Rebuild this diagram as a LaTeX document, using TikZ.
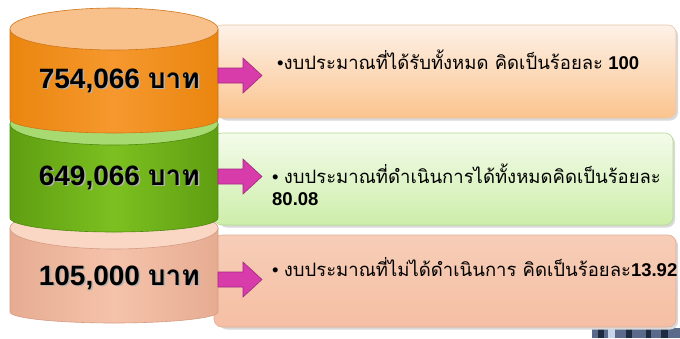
\documentclass[tikz,border=0pt]{standalone}
\usepackage{fontspec}
\setmainfont{Liberation Sans}
\newfontfamily\thai[Script=Thai]{Loma}
\definecolor{orEdge}{HTML}{EA860F}
\definecolor{orMid}{HTML}{F6982E}
\definecolor{orTop}{HTML}{F8C18C}
\definecolor{orLine}{HTML}{D07418}
\definecolor{grEdge}{HTML}{5F9E12}
\definecolor{grMid}{HTML}{7CC020}
\definecolor{grTop}{HTML}{A8DA72}
\definecolor{grLine}{HTML}{4E8A0E}
\definecolor{peEdge}{HTML}{E6AC92}
\definecolor{peMid}{HTML}{F5C3AA}
\definecolor{peTop}{HTML}{FAD6C4}
\definecolor{peLine}{HTML}{D59C84}
\definecolor{mag}{HTML}{D83CAA}
\definecolor{magD}{HTML}{A02880}
\definecolor{b1Top}{HTML}{FDF1E8}
\definecolor{b1Bot}{HTML}{FBC48E}
\definecolor{b1Line}{HTML}{E9C6A6}
\definecolor{b2Top}{HTML}{F3FBEA}
\definecolor{b2Bot}{HTML}{CDEEAA}
\definecolor{b2Line}{HTML}{B5DA8E}
\definecolor{b3Top}{HTML}{F7CDB7}
\definecolor{b3Bot}{HTML}{F5BFA4}
\definecolor{b3Line}{HTML}{DFAE98}
\definecolor{phMid}{HTML}{5A6A8A}
\definecolor{phDark}{HTML}{1F2A40}
\definecolor{phLight}{HTML}{C8D4E8}
\tikzset{
  box/.style={rounded corners=8pt, line width=0.6pt},
  shadowbox/.style={rounded corners=8pt, fill=black!15},
  lbl/.style={anchor=base east, inner sep=0pt, font=\fontsize{28}{30}\selectfont\bfseries},
  txt/.style={anchor=base west, inner sep=0pt, font=\fontsize{18.5}{22}\selectfont},
  blockarrow/.style={fill=mag, draw=magD, line width=0.6pt}
}
\begin{document}
\begin{tikzpicture}[x=1pt,y=-1pt]
\useasboundingbox (0,0) rectangle (680,338);
\fill[white] (0,0) rectangle (680,338);
% photo fragment bottom right
\fill[phMid] (592,328) rectangle (680,338);
\fill[phDark] (598,328) rectangle (604,338);
\fill[phLight] (608,328) rectangle (615,338);
\fill[phDark] (626,328) rectangle (632,338);
\fill[phDark] (646,328) rectangle (651,338);
\fill[phDark] (661,328) rectangle (668,338);
% boxes
\fill[shadowbox] (219,27.5) rectangle (678,120.5);
\path[box, top color=b1Top, bottom color=b1Bot, draw=b1Line] (214,25) rectangle (676,118);
\fill[shadowbox] (219,135.5) rectangle (675,227.5);
\path[box, top color=b2Top, bottom color=b2Bot, draw=b2Line] (214,133) rectangle (673,225);
\fill[shadowbox] (219,237.5) rectangle (678,329.5);
\path[box, top color=b3Top, bottom color=b3Bot, draw=b3Line] (214,235) rectangle (676,327);
% peach cylinder
\path[left color=peEdge, right color=peEdge, middle color=peMid, draw=peLine, line width=0.6pt]
  (10,228) -- (10,312) arc[start angle=180, end angle=0, x radius=104, y radius=11] -- (218,228) -- cycle;
\path[fill=peTop, draw=peLine, line width=0.6pt] (114,228) ellipse [x radius=104, y radius=21];
% green cylinder
\path[left color=grEdge, right color=grEdge, middle color=grMid, draw=grLine, line width=0.6pt]
  (10,124) -- (10,218) arc[start angle=180, end angle=0, x radius=104, y radius=14] -- (218,124) -- cycle;
\path[fill=grTop, draw=grLine, line width=0.6pt] (114,124) ellipse [x radius=104, y radius=21];
% orange cylinder
\path[left color=orEdge, right color=orEdge, middle color=orMid, draw=orLine, line width=0.6pt]
  (10,29) -- (10,119) arc[start angle=180, end angle=0, x radius=104, y radius=14] -- (218,29) -- cycle;
\path[fill=orTop, draw=orLine, line width=0.6pt] (114,29) ellipse [x radius=104, y radius=21];
% arrows
\foreach \c in {75.5,176.5,279.5}{
  \path[blockarrow] (218,{\c-7.5}) -- (243,{\c-7.5}) -- (243,{\c-17.5}) -- (262,\c)
     -- (243,{\c+17.5}) -- (243,{\c+7.5}) -- (218,{\c+7.5}) -- cycle;
}
% cylinder labels
\node[lbl, text=black!30] at (201.5,89.5) {754,066 {\thai บาท}};
\node[lbl] (l1) at (200,88) {754,066 {\thai บาท}};
\node[lbl, text=black!30] at (201.5,186.5) {649,066 {\thai บาท}};
\node[lbl] (l2) at (200,185) {649,066 {\thai บาท}};
\node[lbl, text=black!30] at (201.5,286.5) {105,000 {\thai บาท}};
\node[lbl] (l3) at (200,285) {105,000 {\thai บาท}};
% texts
\node[txt] (t1) at (277,69) {•{\thai งบประมาณที่ได้รับทั้งหมด คิดเป็นร้อยละ} \textbf{100}};
\node[txt, align=left] (t2) at (272,205) {• {\thai งบประมาณที่ดำเนินการได้ทั้งหมดคิดเป็นร้อยละ}\\\textbf{80.08}};
\node[txt] (t3) at (272,276) {• {\thai งบประมาณที่ไม่ได้ดำเนินการ คิดเป็นร้อยละ}\textbf{13.92}};
\end{tikzpicture}
\end{document}
